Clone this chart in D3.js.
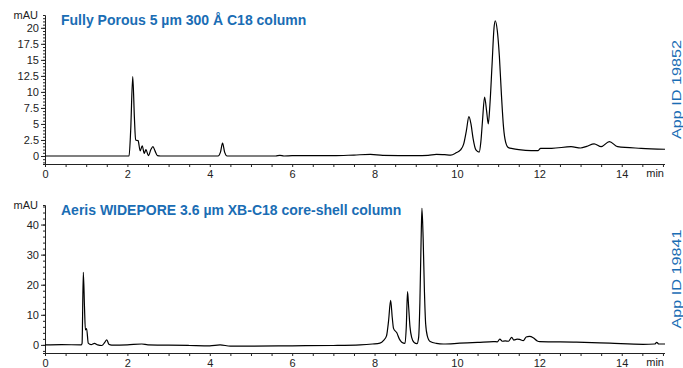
<!DOCTYPE html>
<html>
<head>
<meta charset="utf-8">
<script src="https://cdn.jsdelivr.net/npm/d3@7"></script>
<style>
  body { margin: 0; background: #fff; }
  svg { display: block; font-family: "Liberation Sans", Arial, sans-serif; }
</style>
</head>
<body>
<div id="container"></div>
<script>
const WIDTH = 683;
const HEIGHT = 368;
const BLUE = '#1a6db4';

// chromatogram 1 : fully porous column
const topTime = [0, 1.0, 2.04, 2.08, 2.13, 2.17, 2.2, 2.26, 2.31, 2.36, 2.41, 2.45, 2.51, 2.57, 2.62, 2.67, 2.73, 2.8,
  4.2, 4.26, 4.31, 4.36, 4.42, 5.0, 5.6, 5.7, 5.8, 6.0, 7.0, 7.5, 7.9, 8.2, 9.0, 9.3, 9.5, 9.7, 9.85, 9.98,
  10.08, 10.16, 10.23, 10.29, 10.34, 10.39, 10.46, 10.54, 10.58, 10.62, 10.67, 10.72, 10.76, 10.8, 10.85, 10.9,
  10.93, 10.98, 11.03, 11.08, 11.13, 11.18, 11.25, 11.35, 11.5, 11.8, 11.97, 12.03, 12.3, 12.77, 13.0, 13.15,
  13.33, 13.5, 13.7, 13.9, 14.47, 15.05];
const topSignal = [0, 0, 0, 4, 12.4, 6, 2.5, 2.4, 0.8, 1.6, 0.4, 1.0, 0.05, 1.0, 1.45, 0.8, 0.05, 0,
  0, 0.6, 2.0, 0.6, 0, 0, 0, 0.1, 0, 0.05, 0.05, 0.15, 0.25, 0.1, 0.05, 0.1, 0.25, 0.2, 0.15, 0.5,
  0.9, 1.8, 4.0, 6.15, 5.0, 2.8, 0.95, 0.6, 2.2, 5.5, 9.2, 7.0, 5.0, 8.0, 14.0, 20.0,
  21.1, 19.5, 15.5, 9.5, 4.5, 2.2, 1.3, 1.15, 1.0, 0.85, 0.85, 1.2, 1.2, 1.45, 1.25, 1.5,
  1.9, 1.45, 2.25, 1.45, 1.2, 1.05];

// chromatogram 2 : Aeris WIDEPORE core-shell column
const bottomTime = [0, 0.4, 0.88, 0.9, 0.93, 0.96, 0.98, 1.01, 1.05, 1.12, 1.2, 1.28, 1.38, 1.45, 1.5, 1.55, 1.62,
  2.0, 2.35, 2.5, 3.0, 3.5, 4.0, 4.25, 4.5, 5.0, 6.0, 7.0, 7.65, 7.95, 8.13, 8.22, 8.29, 8.34, 8.39, 8.43,
  8.46, 8.54, 8.6, 8.66, 8.74, 8.77, 8.8, 8.83, 8.86, 8.9, 8.96, 9.03, 9.07, 9.1, 9.13, 9.15, 9.18, 9.21,
  9.24, 9.28, 9.35, 9.5, 9.67, 10.07, 10.5, 10.88, 10.98, 11.04, 11.1, 11.17, 11.25, 11.33, 11.38, 11.46,
  11.52, 11.61, 11.68, 11.76, 11.85, 11.95, 12.01, 12.9, 13.71, 14.52, 14.8, 14.85, 14.9, 15.05];
const bottomSignal = [0, 0.1, 0, 0.5, 24.1, 12, 5, 5.4, 0.6, 0.1, 0.5, 0, -0.2, 0.8, 1.7, 0.2, -0.1,
  0, 0.3, 0, -0.1, -0.2, -0.3, 0, -0.4, -0.4, -0.3, -0.2, 0, 0.3, 0.6, 1.5, 3.0, 8, 14.8, 9,
  5.5, 4.0, 2.0, 0.9, 0.5, 6, 17.7, 12, 6, 2.5, 0.8, 0.4, 2.5, 14, 35, 45.4, 35, 18,
  7, 3, 1.1, 0.5, 0.3, 0.55, 0.8, 1.1, 1.0, 1.9, 1.2, 1.3, 1.2, 2.5, 1.6, 1.9,
  1.8, 1.4, 2.6, 2.8, 2.4, 1.3, 1.1, 0.9, 0.55, 0.2, 0.3, 0.8, 0.3, 0.3];

const panels = [
  { title: 'Fully Porous 5 µm 300 Å C18 column', appId: 'App ID 19852',
    time: topTime, signal: topSignal,
    top: 15, bottom: 164, yDomain: [-1.25, 22], minorStep: 0.5, majorStep: 2.5, yMax: 20 },
  { title: 'Aeris WIDEPORE 3.6 µm XB-C18 core-shell column', appId: 'App ID 19841',
    time: bottomTime, signal: bottomSignal,
    top: 205, bottom: 353, yDomain: [-2.7, 46.5], minorStep: 2, majorStep: 10, yMax: 40 }
];

const LEFT = 45;
const RIGHT = 665;

const svg = d3.select('#container')
              .append('svg')
                .attr('width', WIDTH)
                .attr('height', HEIGHT);

const xscale = d3.scaleLinear().domain([0, 15.05]).range([LEFT, RIGHT]);

const drawPanel = p => {
    const g = svg.append('g');
    const yscale = d3.scaleLinear().domain(p.yDomain).range([p.bottom, p.top]);

    // x axis : small ticks every half minute, labels on even minutes
    const xAxis = d3.axisBottom(xscale)
                    .tickValues(d3.range(0, 15.01, 0.5))
                    .tickSize(3)
                    .tickPadding(3)
                    .tickFormat(d => (d % 2 === 0 ? d : ''));
    g.append('g')
       .attr('transform', `translate(0, ${p.bottom})`)
       .call(xAxis)
       .call(a => a.select('.domain').attr('d', `M${LEFT},0.5H${RIGHT}`));

    // y axis : dense minor ticks + labelled major ticks
    const minor = d3.range(Math.ceil(p.yDomain[0] / p.minorStep) * p.minorStep, p.yDomain[1], p.minorStep);
    const yMinor = d3.axisLeft(yscale).tickValues(minor).tickSize(2).tickFormat('');
    g.append('g')
       .attr('transform', `translate(${LEFT}, 0)`)
       .call(yMinor);

    const major = d3.range(0, p.yMax + 0.01, p.majorStep);
    const yMajor = d3.axisLeft(yscale).tickValues(major).tickSize(4).tickPadding(2)
                     .tickFormat(d3.format('~g'));
    g.append('g')
       .attr('transform', `translate(${LEFT}, 0)`)
       .call(yMajor)
       .call(a => a.select('.domain').remove());

    g.selectAll('.tick text')
       .attr('font-size', 11)
       .attr('fill', '#222')
       .attr('font-family', '"Liberation Sans", Arial, sans-serif');
    g.selectAll('.tick line').attr('stroke', '#222');
    g.selectAll('.domain').attr('stroke', '#222');

    g.append('text')
       .attr('x', 38)
       .attr('y', p.top + 4)
       .attr('text-anchor', 'end')
       .attr('font-size', 11)
       .attr('fill', '#222')
       .text('mAU');

    g.append('text')
       .attr('x', RIGHT - 1)
       .attr('y', p.bottom + 13)
       .attr('text-anchor', 'end')
       .attr('font-size', 11)
       .attr('fill', '#222')
       .text('min');

    g.append('text')
       .attr('x', 61)
       .attr('y', p.top + 10)
       .attr('font-size', 14)
       .attr('font-weight', 'bold')
       .attr('fill', BLUE)
       .text(p.title);

    const midY = (p.top + p.bottom) / 2;
    g.append('text')
       .attr('transform', `translate(681, ${midY}) rotate(-90)`)
       .attr('text-anchor', 'middle')
       .attr('font-size', 13.5)
       .attr('textLength', 99)
       .attr('lengthAdjust', 'spacingAndGlyphs')
       .attr('fill', BLUE)
       .text(p.appId);

    const data = p.time.map((t, i) => [t, p.signal[i]]);
    const line = d3.line()
                   .x(d => xscale(d[0]))
                   .y(d => yscale(d[1]))
                   .curve(d3.curveMonotoneX);

    g.append('path')
       .datum(data)
       .attr('d', line)
       .attr('fill', 'none')
       .attr('stroke', '#000')
       .attr('stroke-width', 1.2)
       .attr('stroke-linejoin', 'round');
};

panels.forEach(drawPanel);
</script>
</body>
</html>
